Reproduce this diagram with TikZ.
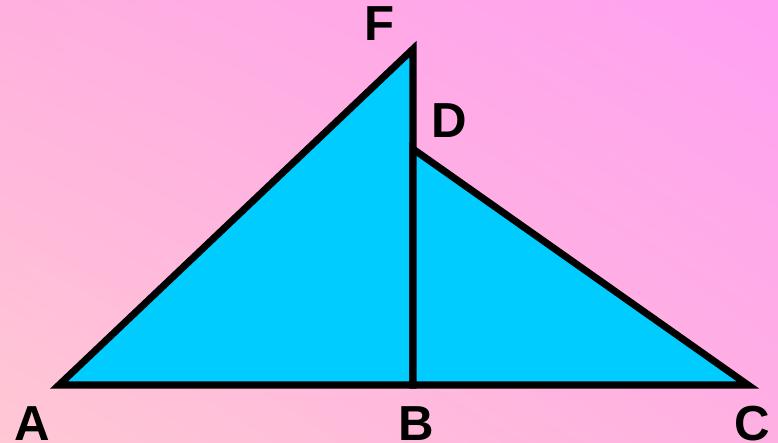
\documentclass[tikz,border=0pt]{standalone}
\usepackage{fontspec}
\setmainfont{Liberation Sans}
\usepackage{tikz}
\usetikzlibrary{shadings}
\definecolor{bgLL}{HTML}{FFC8D4}
\definecolor{bgUL}{HTML}{FFB0DE}
\definecolor{bgLR}{HTML}{FFB0E2}
\definecolor{bgUR}{HTML}{FFA0F2}
\definecolor{tri}{HTML}{00CCFF}
\tikzset{every path/.style={line width=4pt,line join=miter},
  lbl/.style={font=\fontsize{28}{30}\selectfont\bfseries}}

\begin{document}
\begin{tikzpicture}[x=0.02cm,y=-0.02cm]
    % background
    \shade[lower left=bgLL,upper left=bgUL,lower right=bgLR,upper right=bgUR] (0,0) rectangle (778,443);
    \useasboundingbox (0,0) rectangle (778,443);

    \coordinate (A) at (59,385);
    \coordinate (B) at (413,385);
    \coordinate (C) at (748,385);
    \coordinate (D) at (413,149);
    \coordinate (F) at (413,49);

    \filldraw[fill=tri,draw=black] (A) -- (B) -- (F) -- cycle;
    \filldraw[fill=tri,draw=black] (B) -- (C) -- (D) -- cycle;

    \node[lbl] (LA) at (32,424) {A};
    \node[lbl] (LB) at (416,424) {B};
    \node[lbl] (LC) at (752,424) {C};
    \node[lbl] (LD) at (449,121) {D};
    \node[lbl] (LF) at (380,24) {F};
\end{tikzpicture}
\end{document}
